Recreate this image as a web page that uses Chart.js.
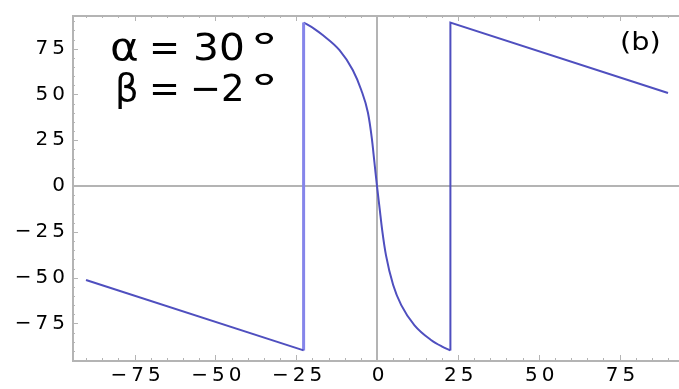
<!DOCTYPE html>
<html>
<head>
<meta charset="utf-8">
<script src="https://cdn.jsdelivr.net/npm/chart.js@4.4.1/dist/chart.umd.min.js"></script>
<style>
    html, body { margin: 0; padding: 0; background: #fff; overflow: hidden; }
    canvas { display: block; }
</style>
</head>
<body>
<canvas id="plot" width="679" height="389"></canvas>
<script>
// tick labels on both axes
const xTicks = [-75, -50, -25, 0, 25, 50, 75];
const yTicks = [-75, -50, -25, 0, 25, 50, 75];

// left branch: falling line down to the discontinuity
const leftX = [-90, -22.7];
const leftY = [-51.3, -89.7];

// jump up at the left discontinuity
const jumpLX = [-22.7, -22.7];
const jumpLY = [-89.7, 89.3];

// central branch through the origin
const midX = [-22.7, -19.5, -16.7, -11.6, -7.5, -4.9, -2.8, -1.6, -0.8, 0,
              0.8, 1.6, 2.8, 5, 7.5, 11.6, 16.7, 20, 22.7];
const midY = [89.3, 86, 82.3, 74.2, 63.4, 52.6, 40, 26, 13, 0,
              -12, -24, -38, -54, -65, -76, -84, -87.5, -89.7];

// right branch: jump up, then falling line
const rightX = [22.7, 22.7, 90];
const rightY = [-89.7, 89.3, 50.8];

const lineColor = '#4f4fbf';
const frameColor = '#b4b4b4';

function toPoints(xs, ys) {
    return xs.map((x, i) => ({ x: x, y: ys[i] }));
}

function tickText(v) {
    return v < 0 ? '\u2212' + Math.abs(v) : String(v);
}

// frame with inward ticks, plus the text labels in the corners
const framePlugin = {
    id: 'frame',
    beforeDraw(chart) {
        chart.ctx.letterSpacing = '4px';
    },
    beforeDatasetsDraw(chart) {
        const { ctx, chartArea: a, scales } = chart;
        ctx.save();
        ctx.letterSpacing = '0px';
        ctx.strokeStyle = frameColor;
        ctx.lineWidth = 1;
        ctx.beginPath();
        for (let v = -90; v <= 90; v += 5) {
            const px = Math.round(scales.x.getPixelForValue(v)) + 0.5;
            const len = v % 25 === 0 ? 6 : 3;
            ctx.moveTo(px, a.top); ctx.lineTo(px, a.top + len);
            ctx.moveTo(px, a.bottom); ctx.lineTo(px, a.bottom - len);
        }
        for (let v = -95; v <= 90; v += 5) {
            const py = Math.round(scales.y.getPixelForValue(v)) + 0.5;
            const len = v % 25 === 0 ? 6 : 3;
            ctx.moveTo(a.left, py); ctx.lineTo(a.left + len, py);
        }
        ctx.stroke();
        ctx.lineWidth = 2;
        ctx.beginPath();
        ctx.moveTo(a.right, a.top + 1);
        ctx.lineTo(a.left + 1, a.top + 1);
        ctx.lineTo(a.left + 1, a.bottom);
        ctx.lineTo(a.right, a.bottom);
        ctx.stroke();
        ctx.restore();
    },
    afterDraw(chart) {
        const ctx = chart.ctx;
        ctx.save();
        ctx.letterSpacing = '0px';
        ctx.fillStyle = '#000';
        ctx.textBaseline = 'alphabetic';
        const put = (txt, x, y, size, sx) => {
            ctx.save();
            ctx.translate(x, y);
            ctx.scale(sx, 1);
            ctx.font = size + 'px "DejaVu Sans"';
            ctx.fillText(txt, 0, 0);
            ctx.restore();
        };
        put('\u03b1', 110, 60, 38, 1.15);
        put('=', 149, 60, 37, 1.0);
        put('30', 193, 60, 37, 1.1);
        put('\u00b0', 250, 60, 38, 1.5);
        put('\u03b2', 115, 101, 37, 1.0);
        put('=', 149, 101, 37, 1.0);
        put('\u22122', 190, 101, 37, 1.0);
        put('\u00b0', 250, 101, 38, 1.5);
        put('(b)', 620, 50, 24, 1.2);
        ctx.restore();
    }
};

const chart = new Chart(document.getElementById('plot'), {
    type: 'line',
    data: {
        datasets: [
            { data: toPoints(leftX, leftY) },
            { data: toPoints(jumpLX, jumpLY), borderColor: '#8585ea', borderWidth: 3 },
            { data: toPoints(midX, midY), cubicInterpolationMode: 'monotone' },
            { data: toPoints(rightX, rightY) }
        ].map(d => Object.assign({
            borderColor: lineColor,
            borderWidth: 2,
            tension: 0,
            pointRadius: 0,
            fill: false
        }, d))
    },
    options: {
        responsive: false,
        animation: false,
        events: [],
        layout: { padding: { top: 11, right: 0, left: 0, bottom: 0 } },
        plugins: { legend: { display: false }, tooltip: { enabled: false } },
        scales: {
            x: {
                type: 'linear',
                min: -94.33,
                max: 93.4,
                afterBuildTicks: s => { s.ticks = xTicks.map(v => ({ value: v })); },
                afterFit: s => { s.height = 28; },
                border: { display: false },
                grid: {
                    drawTicks: false,
                    lineWidth: 2,
                    color: c => c.tick && c.tick.value === 0 ? frameColor : 'rgba(0,0,0,0)'
                },
                ticks: {
                    padding: 3,
                    labelOffset: 3,
                    maxRotation: 0,
                    autoSkip: false,
                    color: '#000',
                    font: { family: 'DejaVu Sans', size: 20 },
                    callback: v => tickText(v)
                }
            },
            y: {
                type: 'linear',
                min: -95.5,
                max: 93.4,
                afterBuildTicks: s => { s.ticks = yTicks.map(v => ({ value: v })); },
                afterFit: s => { s.width = 72; },
                border: { display: false },
                grid: {
                    drawTicks: false,
                    lineWidth: 2,
                    color: c => c.tick && c.tick.value === 0 ? frameColor : 'rgba(0,0,0,0)'
                },
                ticks: {
                    padding: 3,
                    autoSkip: false,
                    color: '#000',
                    font: { family: 'DejaVu Sans', size: 20 },
                    callback: v => tickText(v)
                }
            }
        }
    },
    plugins: [framePlugin]
});
</script>
</body>
</html>
